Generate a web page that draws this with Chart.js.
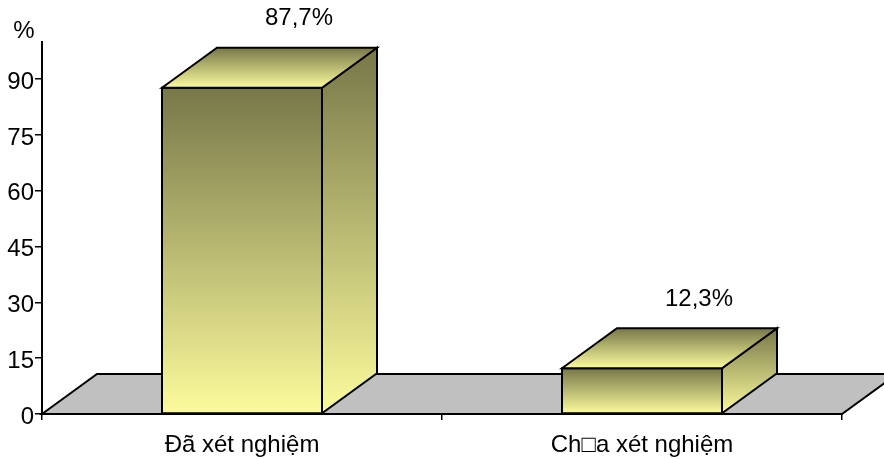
<!DOCTYPE html>
<html>
<head>
<meta charset="utf-8">
<script src="https://cdn.jsdelivr.net/npm/chart.js@4/dist/chart.umd.min.js"></script>
<style>
  html, body { margin: 0; padding: 0; background: #ffffff; }
  canvas { display: block; }
</style>
</head>
<body>
<canvas id="chart" width="884" height="459"></canvas>
<script>
// Survey result: share of respondents tested vs. not tested (%)
const categories = ['Đã xét nghiệm', 'Ch□a xét nghiệm'];
const percentValues = [87.7, 12.3];
const yTickValues = [0, 15, 30, 45, 60, 75, 90];

const FONT = "'Liberation Sans', Arial, sans-serif";
const FONT_SIZE = 24;
const DEPTH_X = 55;     // 3D depth offset, horizontal
const DEPTH_Y = -40;    // 3D depth offset, vertical
const DARK = '#777749';
const LIGHT = '#fbfb9c';

function vGradient(ctx, top, bottom) {
  const g = ctx.createLinearGradient(0, top, 0, bottom);
  g.addColorStop(0, DARK);
  g.addColorStop(1, LIGHT);
  return g;
}

function poly(ctx, pts, fill) {
  ctx.beginPath();
  ctx.moveTo(pts[0][0], pts[0][1]);
  for (let i = 1; i < pts.length; i++) ctx.lineTo(pts[i][0], pts[i][1]);
  ctx.closePath();
  ctx.fillStyle = fill;
  ctx.fill();
  ctx.stroke();
}

const formatPct = v => v.toFixed(1).replace('.', ',') + '%';

// Grey floor beneath the bars
const floorPlugin = {
  id: 'floor3d',
  beforeDatasetsDraw(chart) {
    const { ctx, chartArea: a } = chart;
    ctx.save();
    ctx.lineWidth = 2;
    ctx.strokeStyle = '#000';
    ctx.lineJoin = 'miter';
    poly(ctx, [
      [a.left, a.bottom],
      [a.left + DEPTH_X, a.bottom + DEPTH_Y],
      [a.right + DEPTH_X, a.bottom + DEPTH_Y],
      [a.right, a.bottom]
    ], '#c0c0c0');
    ctx.restore();
  }
};

// Boxes, value labels and the "%" unit label
const boxPlugin = {
  id: 'boxes3d',
  afterDatasetsDraw(chart) {
    const { ctx, chartArea: a } = chart;
    const meta = chart.getDatasetMeta(0);
    ctx.save();
    ctx.lineWidth = 2;
    ctx.strokeStyle = '#000';
    ctx.lineJoin = 'miter';
    meta.data.forEach((bar, i) => {
      const xL = bar.x - bar.width / 2;
      const xR = bar.x + bar.width / 2;
      const yT = bar.y;
      const yB = bar.base;
      // front face
      poly(ctx, [[xL, yT], [xR, yT], [xR, yB], [xL, yB]], vGradient(ctx, yT, yB));
      // side face
      poly(ctx, [[xR, yT], [xR + DEPTH_X, yT + DEPTH_Y], [xR + DEPTH_X, yB + DEPTH_Y], [xR, yB]],
        vGradient(ctx, yT + DEPTH_Y, yB));
      // top face
      poly(ctx, [[xL, yT], [xL + DEPTH_X, yT + DEPTH_Y], [xR + DEPTH_X, yT + DEPTH_Y], [xR, yT]],
        vGradient(ctx, yT + DEPTH_Y, yT));
      // value label
      ctx.fillStyle = '#000';
      ctx.font = FONT_SIZE + 'px ' + FONT;
      ctx.textAlign = 'center';
      ctx.textBaseline = 'middle';
      ctx.fillText(formatPct(percentValues[i]), bar.x + DEPTH_X + 2, yT + DEPTH_Y - 29);
    });
    // unit label above the value axis
    ctx.fillStyle = '#000';
    ctx.font = FONT_SIZE + 'px ' + FONT;
    ctx.textAlign = 'center';
    ctx.textBaseline = 'middle';
    ctx.fillText('%', a.left - 18, a.top - 11);
    ctx.restore();
  }
};

new Chart(document.getElementById('chart'), {
  type: 'bar',
  data: {
    labels: categories,
    datasets: [{
      data: percentValues,
      backgroundColor: 'rgba(0,0,0,0)',
      borderWidth: 0,
      barPercentage: 0.4,
      categoryPercentage: 1.0
    }]
  },
  options: {
    responsive: false,
    animation: false,
    layout: { padding: { top: 42, right: 42, left: 0, bottom: 0 } },
    plugins: { legend: { display: false }, tooltip: { enabled: false } },
    scales: {
      x: {
        afterFit(scale) { scale.height = 45; },
        grid: { drawOnChartArea: false, drawTicks: true, tickLength: 6, color: '#000', lineWidth: 1.5, offset: true },
        border: { display: true, color: '#000', width: 2 },
        ticks: { color: '#000', padding: 11, font: { family: FONT, size: FONT_SIZE }, maxRotation: 0 }
      },
      y: {
        min: 0,
        max: 100,
        afterFit(scale) { scale.width = 42; },
        afterBuildTicks(scale) { scale.ticks = yTickValues.map(v => ({ value: v })); },
        grid: { drawOnChartArea: false, drawTicks: true, tickLength: 7, color: '#000', lineWidth: 1.5 },
        border: { display: true, color: '#000', width: 2 },
        ticks: { color: '#000', padding: 1, labelOffset: 3, font: { family: FONT, size: FONT_SIZE } }
      }
    }
  },
  plugins: [floorPlugin, boxPlugin]
});
</script>
</body>
</html>
